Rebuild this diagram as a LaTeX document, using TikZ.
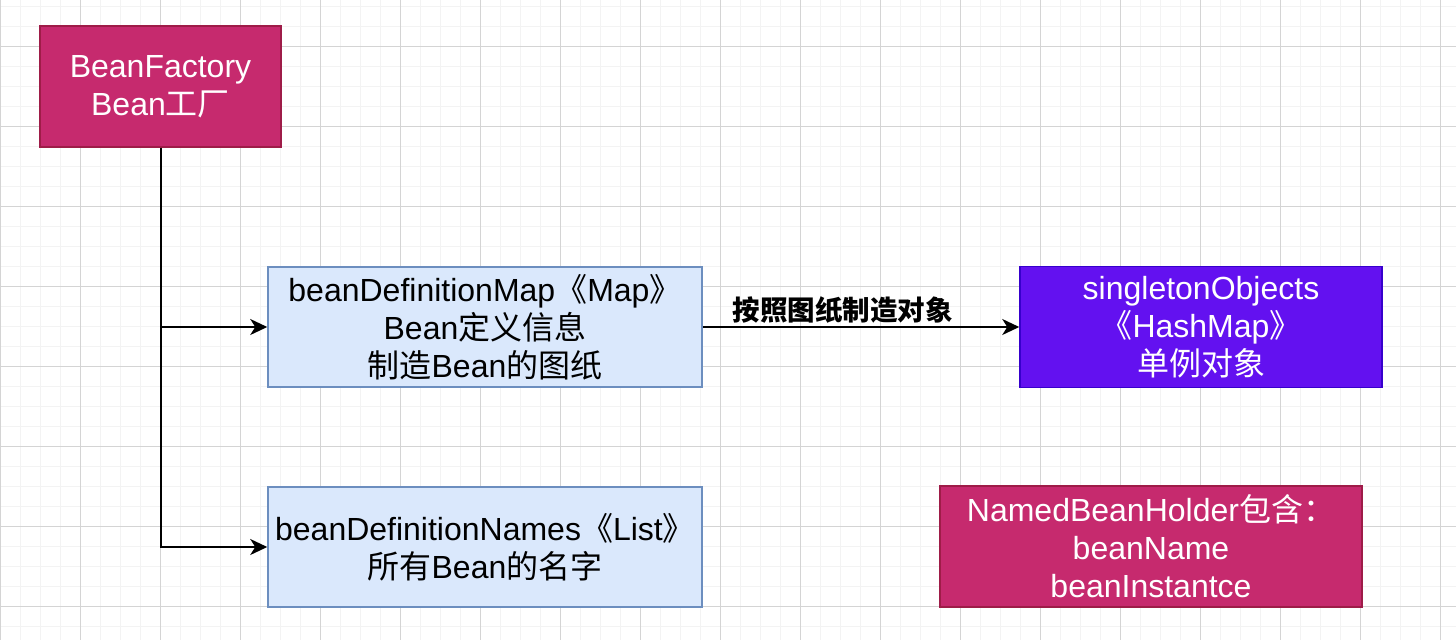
\documentclass[tikz,border=0pt]{standalone}
\usepackage{fontspec}
\setmainfont{Liberation Sans}
\newfontfamily\cjk{Noto Sans CJK SC}
\usetikzlibrary{arrows.meta}
\definecolor{gridminor}{RGB}{243,243,243}
\definecolor{gridmajor}{RGB}{212,212,212}
\definecolor{pinkfill}{RGB}{198,42,110}
\definecolor{pinkline}{RGB}{158,28,72}
\definecolor{bluefill}{HTML}{DAE8FC}
\definecolor{blueline}{HTML}{6C8EBF}
\definecolor{violetfill}{RGB}{99,17,240}
\definecolor{violetline}{RGB}{55,0,204}
\newcommand{\C}[1]{{\cjk #1}}
\tikzset{
  box/.style={draw, line width=1.5pt, inner sep=0pt, align=center,
    font=\fontsize{32}{38}\selectfont},
  pinkbox/.style={box, fill=pinkfill, draw=pinkline, text=white},
  bluebox/.style={box, fill=bluefill, draw=blueline, text=black},
  violetbox/.style={box, fill=violetfill, draw=violetline, text=white},
  conn/.style={line width=2pt, -{Stealth[length=17pt, width=16pt, inset=5pt]}},
  lbl/.style={font=\fontsize{27.5}{30}\selectfont\cjk\bfseries, inner sep=0pt}
}
\begin{document}
\begin{tikzpicture}[x=1pt, y=-1pt]
\useasboundingbox (0,0) rectangle (1456,640);
\fill[white] (0,0) rectangle (1456,640);
\foreach \x in {0,20,...,1440} \draw[gridminor, line width=1pt] (\x,0) -- (\x,640);
\foreach \y in {6,26,...,626} \draw[gridminor, line width=1pt] (0,\y) -- (1456,\y);
\foreach \x in {0,80,...,1440} \draw[gridmajor, line width=1pt] (\x,0) -- (\x,640);
\foreach \y in {46,126,...,606} \draw[gridmajor, line width=1pt] (0,\y) -- (1456,\y);

\node[pinkbox, minimum width=241pt, minimum height=121pt] (bf) at (160.5,86.5)
  {BeanFactory\\Bean\C{工厂}};
\node[bluebox, minimum width=434pt, minimum height=120pt] (map) at (485,327)
  {beanDefinitionMap\C{《}Map\C{》}\\Bean\C{定义信息}\\\C{制造}Bean\C{的图纸}};
\node[violetbox, minimum width=362pt, minimum height=121pt] (single) at (1201,327)
  {singletonObjects\\\C{《}HashMap\C{》}\\\C{单例对象}};
\node[bluebox, minimum width=434pt, minimum height=120pt] (names) at (485,547)
  {beanDefinitionNames\C{《}List\C{》}\\\C{所有}Bean\C{的名字}};
\node[pinkbox, minimum width=422pt, minimum height=121pt] (holder) at (1151,546.5)
  {NamedBeanHolder\C{包含：}\\beanName\\beanInstantce};

\draw[conn] (bf.south) |- (map.west);
\draw[conn] (bf.south) |- (names.west);
\draw[conn] (map.east) -- (single.west)
  node[lbl, pos=0.442, yshift=17pt] (lab) {按照图纸制造对象};
\end{tikzpicture}
\end{document}
